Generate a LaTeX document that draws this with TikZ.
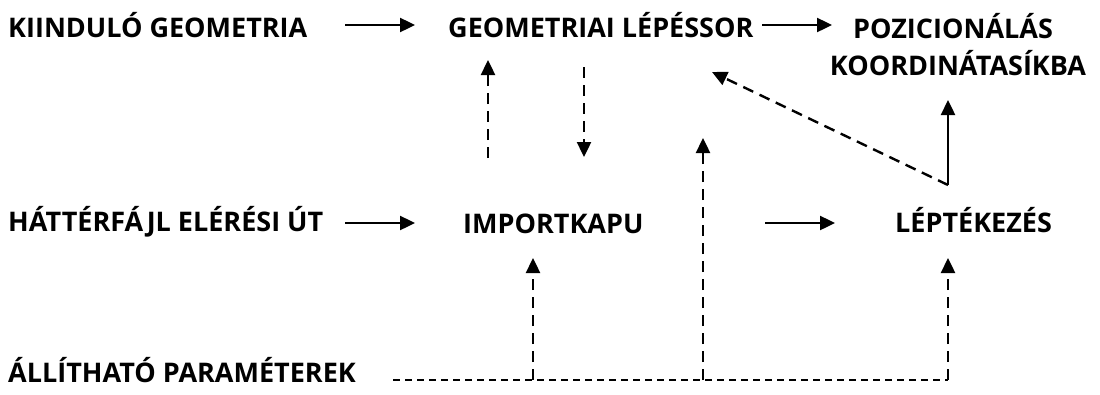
\documentclass[tikz,border=0pt]{standalone}
\usepackage{fontspec}
\setmainfont{Open Sans}
\usetikzlibrary{arrows.meta}
\begin{document}
\begin{tikzpicture}[x=1pt,y=-1pt,
  lbl/.style={font=\bfseries\fontsize{27}{37}\selectfont, inner sep=0pt, anchor=base west},
  ctr/.style={lbl, anchor=base},
  head/.style={-{Triangle[length=15pt,width=14pt]}},
  solidarrow/.style={line width=2.4pt, head},
  vdash/.style={line width=2.4pt, dash pattern=on 11pt off 7pt},
  hdash/.style={line width=2pt, dash pattern=on 7pt off 5pt},
  ddash/.style={line width=2.4pt, dash pattern=on 11pt off 7pt}
]
\useasboundingbox (0,0) rectangle (1100,394);

% labels
\node[lbl] (kiind) at (8,37) {KIINDULÓ GEOMETRIA};
\node[lbl] (geom) at (448,37) {GEOMETRIAI LÉPÉSSOR};
\node[ctr] (pozic) at (953,38) {POZICIONÁLÁS};
\node[ctr] (koord) at (958,75) {KOORDINÁTASÍKBA};
\node[lbl] (hatter) at (8,231) {HÁTTÉRFÁJL ELÉRÉSI ÚT};
\node[lbl] (import) at (463,233) {IMPORTKAPU};
\node[lbl] (lepték) at (895,232) {LÉPTÉKEZÉS};
\node[lbl] (param) at (8,382) {ÁLLÍTHATÓ PARAMÉTEREK};

% arrow end points
\coordinate (a1s) at (345,25);  \coordinate (a1e) at (415,25);
\coordinate (a2s) at (762,25);  \coordinate (a2e) at (832,25);
\coordinate (a3s) at (345,223); \coordinate (a3e) at (415,223);
\coordinate (a4s) at (765,223); \coordinate (a4e) at (835,223);
\coordinate (upS) at (488,158); \coordinate (upE) at (488,60);
\coordinate (dnS) at (584,67);  \coordinate (dnE) at (584,157);
\coordinate (corner) at (948,185);
\coordinate (posTip) at (948,100);
\coordinate (diagTip) at (712,72);
\coordinate (pStart) at (393,380);
\coordinate (j1) at (533,380); \coordinate (j1e) at (533,258);
\coordinate (j2) at (703,380); \coordinate (j2e) at (703,138);
\coordinate (j3) at (948,380); \coordinate (j3e) at (948,258);

% solid flow arrows
\draw[solidarrow] (a1s) -- (a1e);
\draw[solidarrow] (a2s) -- (a2e);
\draw[solidarrow] (a3s) -- (a3e);
\draw[solidarrow] (a4s) -- (a4e);
\draw[solidarrow] (corner) -- (posTip);

% dashed feedback arrows
\draw[vdash, head] (upS) -- (upE);
\draw[vdash, head] (dnS) -- (dnE);
\draw[ddash, head] (corner) -- (diagTip);

% parameter bus
\draw[hdash] (pStart) -- (j3);
\draw[vdash, head] (j1) -- (j1e);
\draw[vdash, head] (j2) -- (j2e);
\draw[vdash, head] (j3) -- (j3e);
\end{tikzpicture}
\end{document}
